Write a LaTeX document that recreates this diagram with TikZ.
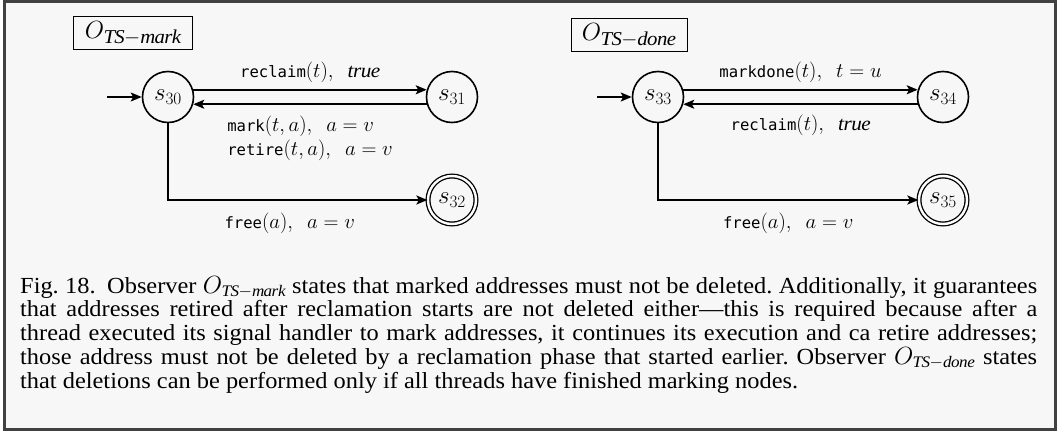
\documentclass[tikz,border=0pt]{standalone}
\usepackage{fontspec}
\setmainfont{Liberation Serif}[FakeStretch=1.06]
\setmonofont{DejaVu Sans Mono}[Scale=0.78]
\usetikzlibrary{calc}
\usetikzlibrary{arrows.meta}
\usetikzlibrary{positioning}

\definecolor{framegray}{HTML}{414141}
\definecolor{pagegray}{HTML}{F7F7F7}

\begin{document}
\begin{tikzpicture}[x=1pt,y=-1pt,
  state/.style={circle,draw,line width=1.6pt,minimum size=51pt,inner sep=0pt,font=\fontsize{23}{25}\selectfont},
  final/.style={state,double,double distance=2.4pt,line width=1.3pt,minimum size=48pt},
  trans/.style={line width=1.7pt,-{Stealth[length=11pt,width=9pt,inset=2.5pt]}},
  lbl/.style={font=\fontsize{20}{24}\selectfont,inner sep=2pt},
  obs/.style={draw,line width=0.8pt,inner xsep=11pt,inner ysep=5pt,font=\fontsize{28}{30}\selectfont}]
\useasboundingbox (0,0) rectangle (1058,431);
\fill[white] (0,0) rectangle (1058,431);
\draw[framegray,line width=3pt,fill=pagegray] (4.5,1.5) rectangle (1055.5,429.5);

% observer for marking
\node[obs] (obsmark) at (133,33) {$O_{\mathit{TS}-\mathit{mark}}$};
\coordinate (in30) at (107,97);
\node[state] (s30) at (168,97) {$s_{30}$};
\node[state] (s31) at (452,97) {$s_{31}$};
\node[final] (s32) at (452,200) {$s_{32}$};
\draw[trans] (in30) -- (s30);
\draw[trans] (s30.16) -- (s31.164) node[lbl,midway,above=4pt] {\texttt{reclaim}$(t),\ \ \mathit{true}$};
\draw[trans] (s31.-164) -- (s30.-16) node[lbl,midway,below=9pt,align=left] {\texttt{mark}$(t, a),\ \ a = v$\\\texttt{retire}$(t, a),\ \ a = v$};
\draw[trans] (s30) |- (s32) node[lbl,pos=0.75,below=10pt,xshift=-8pt] {\texttt{free}$(a),\ \ a = v$};

% observer for mark done
\node[obs] (obsdone) at (629,35) {$O_{\mathit{TS}-\mathit{done}}$};
\coordinate (in33) at (597,97);
\node[state] (s33) at (658,97) {$s_{33}$};
\node[state] (s34) at (943,97) {$s_{34}$};
\node[final] (s35) at (943,200) {$s_{35}$};
\draw[trans] (in33) -- (s33);
\draw[trans] (s33.16) -- (s34.164) node[lbl,midway,above=4pt] {\texttt{markdone}$(t),\ \ t = u$};
\draw[trans] (s34.-164) -- (s33.-16) node[lbl,midway,below=8pt] {\texttt{reclaim}$(t),\ \ \mathit{true}$};
\draw[trans] (s33) |- (s35) node[lbl,pos=0.75,below=10pt] {\texttt{free}$(a),\ \ a = v$};

% caption
\node[anchor=base west,text width=1017pt,align=justify,inner sep=0pt,
  font=\fontsize{23}{23.75}\selectfont\frenchspacing] (caption) at (20,293)
  {Fig.~18.\enspace Observer $O_{\mathit{TS}-\mathit{mark}}$ states that marked addresses must not be deleted. Additionally, it guarantees\linebreak
  that addresses retired after reclamation starts are not deleted either---this is required because after a\linebreak
  thread executed its signal handler to mark addresses, it continues its execution and ca retire addresses;\linebreak
  those address must not be deleted by a reclamation phase that started earlier. Observer $O_{\mathit{TS}-\mathit{done}}$ states\linebreak
  that deletions can be performed only if all threads have finished marking nodes.};
\end{tikzpicture}
\end{document}
